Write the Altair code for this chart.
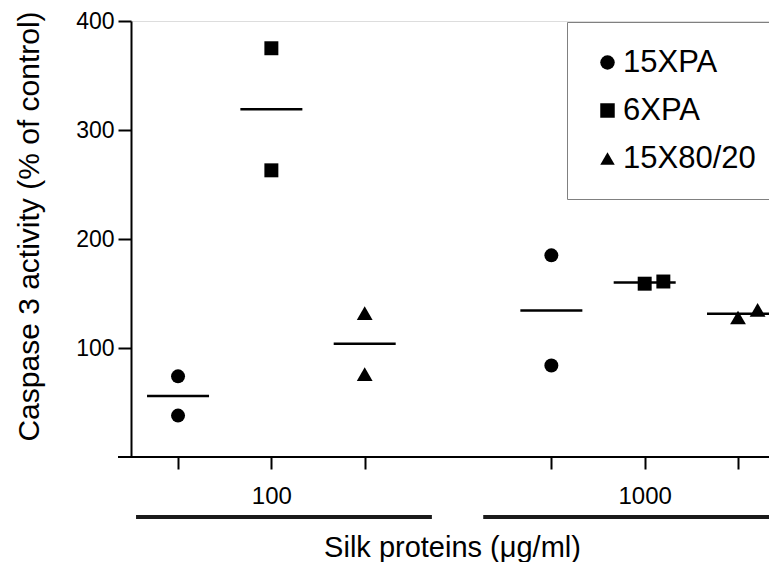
import altair as alt
import pandas as pd

# ---- data ----
order = ["15XPA", "6XPA", "15X80/20"]
samples = ["15XPA", "6XPA", "15X80/20", "15XPA", "6XPA", "15X80/20"]
concentrations = ["100", "100", "100", "1000", "1000", "1000"]
slot = [1, 2, 3, 5, 6, 7]
rep_a = [74, 375, 132, 185, 159, 128]
rep_b = [38, 263, 76, 84, 161, 135]
rep_b_shift = [0, 0, 0, 0, 0.2, 0.21]

bracket_label = ["100", "1000"]
bracket_start = [0.55, 4.27]
bracket_end = [3.72, 7.42]

rows = []
for s, c, p, a, b, sh in zip(samples, concentrations, slot, rep_a, rep_b, rep_b_shift):
    rows.append({"sample": s, "conc": c, "slot": p, "xpos": p, "value": a})
    rows.append({"sample": s, "conc": c, "slot": p, "xpos": p + sh, "value": b})
points = pd.DataFrame(rows)
brackets = pd.DataFrame({"label": bracket_label, "start": bracket_start, "end": bracket_end})
axis_ext = pd.DataFrame({"k": [0]})

W, H = 638, 436
FONT = "Liberation Sans"
XT = "Silk proteins (μg/ml)"
YT = "Caspase 3 activity (% of control)"
xscale = alt.Scale(domain=[0.496, 7.332], nice=False, zero=False)
yscale = alt.Scale(domain=[0, 400], nice=False)

xaxis = alt.Axis(
    values=[1, 2, 3, 5, 6, 7],
    labelExpr="datum.value == 2 ? '100' : datum.value == 6 ? '1000' : ''",
    tickSize=12, tickWidth=2, tickColor="black",
    domain=False, grid=False,
    labelFontSize=24, labelPadding=27, labelBaseline="middle",
    labelFlush=False, labelOverlap=False, labelColor="black", labelFont=FONT,
    titleX=321, titleY=90, titleAlign="center", titleBaseline="middle",
    titleFontSize=29, titleFontWeight="normal", titleColor="black", titleFont=FONT,
)
yaxis = alt.Axis(
    values=[100, 200, 300, 400],
    tickSize=13, tickWidth=2, tickColor="black",
    domainColor="black", domainWidth=2, grid=False,
    labelFontSize=23, labelPadding=4, labelColor="black", labelFont=FONT,
    titleX=-102, titleY=205, titleAngle=-90, titleAlign="center", titleBaseline="middle",
    titleFontSize=30, titleFontWeight="normal", titleColor="black", titleFont=FONT,
)

shape_enc = alt.Shape(
    "sample:N",
    scale=alt.Scale(domain=order, range=["circle", "square", "triangle-up"]),
    title=None,
    legend=alt.Legend(
        orient="none", legendX=436, legendY=1, padding=25,
        strokeColor="#808080", fillColor="white",
        labelFontSize=31, labelFont=FONT, labelColor="black", labelOffset=0,
        rowPadding=16, symbolSize=210, symbolFillColor="black",
        symbolStrokeColor="black", symbolStrokeWidth=0, symbolOffset=0,
    ),
)

pts_main = alt.Chart(points).transform_filter(
    alt.datum.sample != "15X80/20"
).mark_point(filled=True, size=195, opacity=1, color="black").encode(
    x=alt.X("xpos:Q", scale=xscale, axis=xaxis, title=XT),
    y=alt.Y("value:Q", scale=yscale, axis=yaxis, title=YT),
    shape=shape_enc,
)

pts_tri = alt.Chart(points).transform_filter(
    alt.datum.sample == "15X80/20"
).mark_point(filled=True, size=250, opacity=1, color="black").encode(
    x=alt.X("xpos:Q", scale=xscale, title=XT),
    y=alt.Y("value:Q", scale=yscale, title=YT),
    shape=shape_enc,
)

means = alt.Chart(points).mark_tick(orient="horizontal", size=62, thickness=2.5, color="black").encode(
    x=alt.X("slot:Q", scale=xscale, title=XT),
    y=alt.Y("mean(value):Q", scale=yscale, title=YT),
)

bars = alt.Chart(brackets).mark_rule(strokeWidth=4, color="#1a1a1a").encode(
    x=alt.X("start:Q", scale=xscale, title=XT),
    x2="end:Q",
    y=alt.value(H + 60),
)

xline = alt.Chart(axis_ext).mark_rule(strokeWidth=2, color="black").encode(
    x=alt.value(-13), x2=alt.value(W), y=alt.value(H)
)

chart = alt.layer(xline, bars, means, pts_main, pts_tri).properties(
    width=W, height=H,
    autosize=alt.AutoSizeParams(type="none"),
    padding={"left": 123, "top": 13, "right": 0, "bottom": 105},
).configure_view(stroke=None).configure(font=FONT)

chart.save("out.html", embed_options={"renderer": "svg", "actions": False})
